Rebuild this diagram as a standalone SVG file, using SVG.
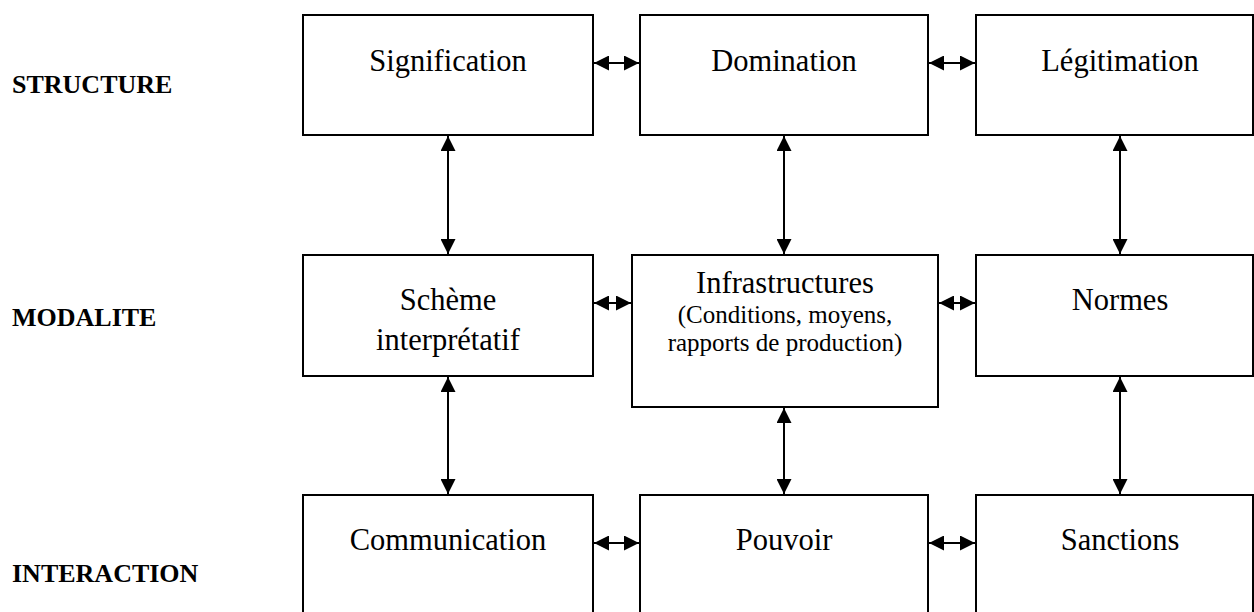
<svg xmlns="http://www.w3.org/2000/svg" width="1254" height="612" viewBox="0 0 1254 612">
<style>
.box{fill:#fff;stroke:#000;stroke-width:2}
.t{font-family:"Liberation Serif",serif;font-size:30.5px;fill:#000;text-anchor:middle}
.s{font-family:"Liberation Serif",serif;font-size:25px;fill:#000;text-anchor:middle}
.lbl{font-family:"Liberation Serif",serif;font-size:26px;font-weight:bold;fill:#000}
.c{stroke:#000;stroke-width:2;fill:none;marker-start:url(#ah);marker-end:url(#ah)}
</style>
<defs>
<marker id="ah" viewBox="0 0 15 15" refX="15" refY="7.5" markerWidth="15" markerHeight="15" markerUnits="userSpaceOnUse" orient="auto-start-reverse">
<path d="M0,0 L15,7.5 L0,15 Z" fill="#000"/>
</marker>
</defs>
<rect width="1254" height="612" fill="#fff"/>
<g id="labels">
<text class="lbl" x="12" y="93">STRUCTURE</text>
<text class="lbl" x="12" y="326">MODALITE</text>
<text class="lbl" x="12" y="582">INTERACTION</text>
</g>
<g id="signification"><rect class="box" x="303" y="15" width="290" height="120"/><text class="t" x="448" y="71">Signification</text></g>
<g id="domination"><rect class="box" x="640" y="15" width="288" height="120"/><text class="t" x="784" y="71">Domination</text></g>
<g id="legitimation"><rect class="box" x="976" y="15" width="277" height="120"/><text class="t" x="1120" y="71">Légitimation</text></g>
<g id="scheme"><rect class="box" x="303" y="255" width="290" height="121"/><text class="t" x="448" y="310">Schème</text><text class="t" x="448" y="350">interprétatif</text></g>
<g id="infrastructures"><rect class="box" x="632" y="255" width="306" height="152"/><text class="t" x="785" y="293">Infrastructures</text><text class="s" x="785" y="323">(Conditions, moyens,</text><text class="s" x="785" y="351">rapports de production)</text></g>
<g id="normes"><rect class="box" x="976" y="255" width="277" height="121"/><text class="t" x="1120" y="310">Normes</text></g>
<g id="communication"><rect class="box" x="303" y="495" width="290" height="130"/><text class="t" x="448" y="550">Communication</text></g>
<g id="pouvoir"><rect class="box" x="640" y="495" width="288" height="130"/><text class="t" x="784" y="550">Pouvoir</text></g>
<g id="sanctions"><rect class="box" x="976" y="495" width="277" height="130"/><text class="t" x="1120" y="550">Sanctions</text></g>
<g id="connectors">
<line class="c" x1="594" y1="63" x2="639" y2="63"/>
<line class="c" x1="929" y1="63" x2="975" y2="63"/>
<line class="c" x1="594" y1="303" x2="631" y2="303"/>
<line class="c" x1="939" y1="303" x2="975" y2="303"/>
<line class="c" x1="594" y1="543" x2="639" y2="543"/>
<line class="c" x1="929" y1="543" x2="975" y2="543"/>
<line class="c" x1="448" y1="136" x2="448" y2="254"/>
<line class="c" x1="784" y1="136" x2="784" y2="254"/>
<line class="c" x1="1120" y1="136" x2="1120" y2="254"/>
<line class="c" x1="448" y1="377" x2="448" y2="494"/>
<line class="c" x1="784" y1="408" x2="784" y2="494"/>
<line class="c" x1="1120" y1="377" x2="1120" y2="494"/>
</g>
</svg>
